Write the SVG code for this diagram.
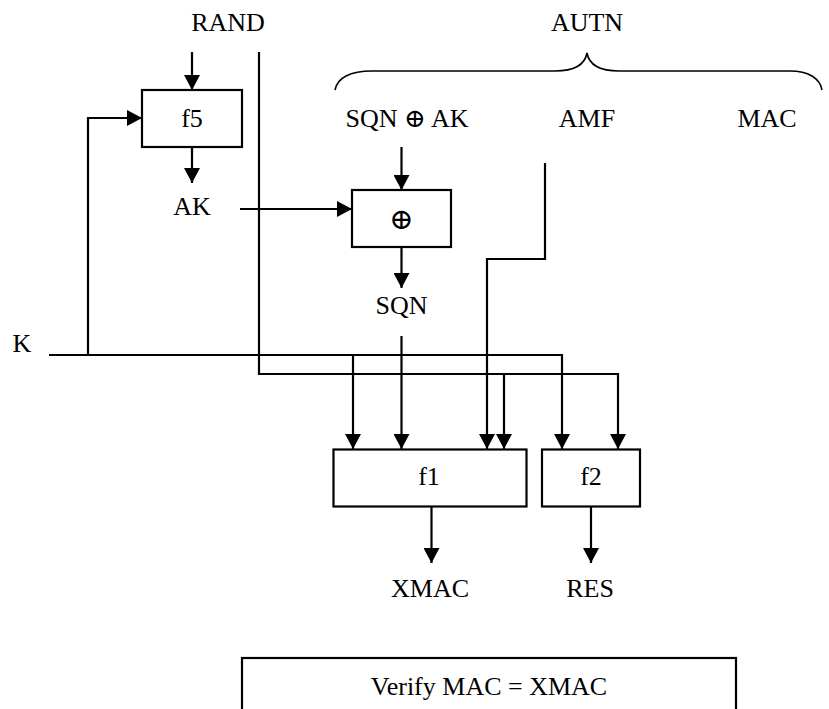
<svg xmlns="http://www.w3.org/2000/svg" width="829" height="709" viewBox="0 0 829 709">
<style>
text{font-family:"Liberation Serif","Times New Roman",serif;font-size:26px;fill:#000;text-anchor:middle}
.box{fill:#fff;stroke:#000;stroke-width:2.2}
.ln{fill:none;stroke:#000;stroke-width:2.2}
.ar{fill:none;stroke:#000;stroke-width:2.2;marker-end:url(#ah)}
.brace{fill:none;stroke:#000;stroke-width:1.6}
.op{font-family:"DejaVu Serif","DejaVu Sans",serif;font-weight:normal}
</style>
<defs>
<marker id="ah" markerUnits="userSpaceOnUse" markerWidth="15" markerHeight="16" viewBox="0 0 15 16" refX="15" refY="8" orient="auto">
<path d="M0,0 L15,8 L0,16 Z" fill="#000"/>
</marker>
</defs>
<rect width="829" height="709" fill="#fff"/>
<g id="connectors">
<line class="ar" x1="192" y1="52" x2="192" y2="90"/>
<polyline class="ar" points="88,355 88,118 142,118"/>
<line class="ar" x1="192" y1="147" x2="192" y2="183"/>
<line class="ar" x1="240" y1="209" x2="352" y2="209"/>
<line class="ar" x1="401.5" y1="147" x2="401.5" y2="190"/>
<line class="ar" x1="401.5" y1="247" x2="401.5" y2="288"/>
<line class="ar" x1="401.5" y1="336" x2="401.5" y2="449"/>
<polyline class="ar" points="545,163 545,259 487,259 487,449"/>
<polyline class="ar" points="259,52 259,374 618,374 618,449"/>
<line class="ar" x1="504" y1="374" x2="504" y2="449"/>
<polyline class="ar" points="49,355 562,355 562,449"/>
<line class="ar" x1="353" y1="355" x2="353" y2="449"/>
<line class="ar" x1="431.5" y1="507" x2="431.5" y2="563"/>
<line class="ar" x1="591" y1="507" x2="591" y2="563"/>
</g>
<g id="rand"><text x="228" y="31">RAND</text></g>
<g id="autn">
<text x="587" y="31">AUTN</text>
<path class="brace" d="M335,90 C337,78 350,71 372,71 L555,71 C575,71 585,64 587,53 C589,64 599,71 619,71 L790,71 C808,71 820,78 822,90"/>
</g>
<g id="sqnak"><text x="407" y="127">SQN <tspan class="op">⊕</tspan> AK</text></g>
<g id="amf"><text x="587" y="127">AMF</text></g>
<g id="mac"><text x="767" y="127">MAC</text></g>
<g id="f5"><rect class="box" x="142" y="90" width="100" height="57"/><text x="192" y="127">f5</text></g>
<g id="ak"><text x="192" y="215">AK</text></g>
<g id="xor"><rect class="box" x="352" y="190" width="99" height="57"/><text class="op" x="401.5" y="229" style="font-size:29px">⊕</text></g>
<g id="sqn"><text x="401.5" y="314">SQN</text></g>
<g id="k"><text x="22" y="352">K</text></g>
<g id="f1"><rect class="box" x="333.5" y="449.5" width="193" height="57"/><text x="429" y="485">f1</text></g>
<g id="f2"><rect class="box" x="542" y="449.5" width="98" height="57"/><text x="591" y="485">f2</text></g>
<g id="xmac"><text x="430" y="597">XMAC</text></g>
<g id="res"><text x="590" y="597">RES</text></g>
<g id="verify"><rect class="box" x="242" y="658" width="494" height="60"/><text x="489" y="695">Verify MAC = XMAC</text></g>
</svg>
